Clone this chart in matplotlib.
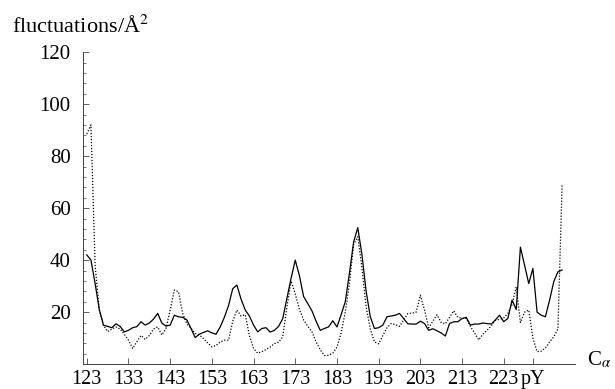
import matplotlib.pyplot as plt
import numpy as np

plt.rcParams['font.family'] = ['Liberation Serif', 'DejaVu Serif']
plt.rcParams['mathtext.fontset'] = 'stix'

# residue numbers (C-alpha index)
residues = np.arange(123, 238)

# solid curve
solid = [42, 40, 31, 21, 15, 14.5, 14, 15.5, 14.5, 12.4,
         13, 14, 14.4, 16.3, 15, 15.8, 17.3, 19.5, 15.8, 14.6,
         15, 18.8, 18.2, 18, 17, 13.7, 10.2, 11.5, 12.2, 12.8,
         12, 11.5, 14.3, 18, 22.5, 29, 30.4, 25, 20.8, 18.5,
         15, 12.4, 13.7, 14, 12.3, 13, 14.5, 17.5, 25.3, 33,
         40, 34, 26, 23.3, 20.5, 16.5, 13, 13.7, 14.3, 16.7,
         14.3, 19, 24, 35, 47, 52.5, 42, 28, 18.2, 13.7,
         14, 15, 18.2, 18.5, 18.8, 19.5, 17.5, 15.5, 15.4, 15.4,
         16.5, 15.6, 13, 13.6, 12.8, 12, 10.8, 15.6, 16.3, 16.3,
         17.5, 18, 15, 15.4, 15.4, 15.8, 15.6, 15.4, 17, 18.8,
         16.3, 17.6, 24.6, 21, 45, 38, 31, 36.8, 20, 18.8,
         18.2, 24.6, 31.7, 35.5, 36.2]

# dotted curve
dotted = [88.5, 92, 38, 20.8, 15, 12.5, 13.5, 14.3, 13.5, 11.5,
          9.2, 6, 8.6, 11, 9.5, 11, 13.5, 14.3, 11.2, 13.7,
          20.8, 28.5, 27.8, 19.5, 15.5, 13.8, 11.8, 11.2, 9.8, 8.2,
          6.6, 7.2, 8.5, 9.2, 9.2, 16.5, 20.8, 18.5, 19, 11,
          6, 4.2, 4.8, 5.6, 6.6, 7.9, 8.4, 10.5, 22, 32,
          27, 21, 17, 14.5, 12.5, 8.5, 5.5, 3.3, 3.4, 4.2,
          6.5, 12, 20, 31, 46, 49, 37, 22, 13.5, 8.5,
          7.8, 11, 14, 15.6, 15.2, 14.5, 17, 19.5, 19.6, 20,
          26.5, 20.8, 14, 16.5, 19, 16, 15.5, 18, 20.5, 18,
          17.6, 17.6, 14.5, 12, 9.3, 11.5, 13, 14.7, 16.8, 17.2,
          17.8, 19.5, 23, 29.7, 16, 20, 20.8, 10, 4.8, 5,
          6.2, 8.5, 10.5, 13.5, 69]

xticks = [123, 133, 143, 153, 163, 173, 183, 193, 203, 213, 223, 230]
xtick_labels = ['123', '133', '143', '153', '163', '173', '183',
                '193', '203', '213', '223', 'pY']
yticks = [20, 40, 60, 80, 100, 120]

fig = plt.figure(figsize=(6.15, 3.89), dpi=100)
ax = fig.add_axes([0.135, 0.064, 0.80, 0.802])

ax.plot(residues, solid, color='black', lw=0.9)
ax.plot(residues, dotted, color='black', lw=0.9, linestyle=(0, (1, 1.4)))

ax.set_xlim(122.1, 240.1)
ax.set_ylim(0, 120)

for s in ['top', 'right']:
    ax.spines[s].set_visible(False)
for s in ['left', 'bottom']:
    ax.spines[s].set_linewidth(0.7)
    ax.spines[s].set_color('#444444')

ax.set_xticks(xticks)
ax.set_xticklabels(xtick_labels)
ax.set_yticks(yticks)
ax.set_yticks(np.arange(0, 121, 4), minor=True)
ax.tick_params(axis='both', which='major', direction='in', length=4,
               width=0.6, labelsize=15, color='#444444')
ax.tick_params(axis='x', labelsize=14.5)
ax.tick_params(axis='y', which='minor', direction='in', length=2,
               width=0.5, color='#444444')
ax.tick_params(axis='y', pad=9)
ax.tick_params(axis='x', pad=4)

fig.text(0.02, 0.915, 'fluctuations/Å$^2$', fontsize=16, ha='left',
         va='baseline')
fig.text(0.954, 0.061, r'C$_\alpha$', fontsize=15, ha='left',
         va='baseline')

plt.savefig('out.png', dpi=100)
